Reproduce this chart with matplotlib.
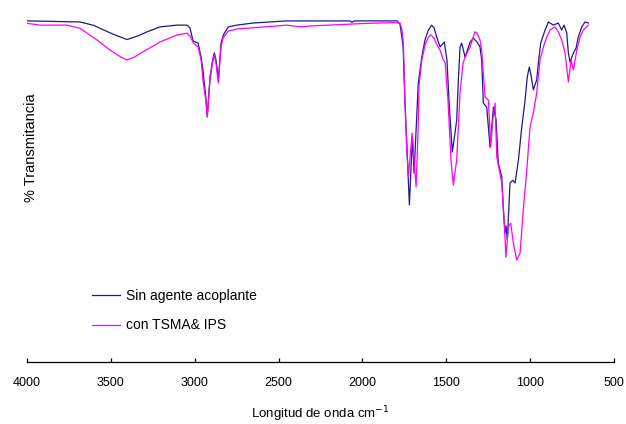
import numpy as np
import matplotlib.pyplot as plt

plt.rcParams['font.family'] = ['Liberation Sans', 'DejaVu Sans']

# Sin agente acoplante (wavenumber cm-1, % transmittance)
wn_sin = [4000, 3684, 3600, 3547, 3480, 3404, 3340, 3284, 3207, 3106, 3046, 3028, 3010, 2980, 2962,
          2951, 2934, 2925, 2909, 2893, 2883, 2873, 2859, 2849, 2843, 2829, 2800,
          2748, 2652, 2450, 2074, 2062, 2050, 1794, 1776, 1758, 1746, 1734, 1720,
          1710, 1702, 1692, 1667, 1646, 1627, 1607, 1587, 1573, 1557, 1537, 1512,
          1496, 1484, 1464, 1454, 1438, 1428, 1418, 1408, 1388, 1358, 1339, 1317,
          1299, 1289, 1279, 1259, 1239, 1219, 1203, 1190, 1169, 1160, 1150, 1144,
          1136, 1120, 1104, 1090, 1070, 1050, 1030, 1017, 1005, 995, 981, 961,
          951, 937, 911, 891, 862, 832, 812, 798, 782, 772, 762, 742, 726, 713,
          692, 673, 653]
t_sin = [96.9, 96.6, 95.6, 94.4, 93.0, 91.6, 92.6, 93.8, 95.2, 95.7, 95.7, 94.9, 91.2, 90.6, 86.6,
         82.9, 75.3, 69.6, 80.9, 85.8, 87.8, 85.8, 80.1, 86.6, 90.6, 92.9, 95.2,
         95.7, 96.3, 96.9, 96.9, 96.5, 96.9, 96.9, 96.0, 90.0, 73.5, 60.2, 44.6,
         55.4, 63.9, 53.6, 79.2, 86.6, 91.5, 94.3, 95.7, 94.9, 92.3, 89.5, 90.9,
         85.8, 74.4, 59.6, 63.0, 68.7, 80.1, 89.5, 90.6, 86.6, 90.9, 92.0, 90.9,
         89.5, 85.8, 73.5, 72.4, 61.0, 72.4, 68.7, 56.5, 52.5, 43.1, 36.6, 38.6,
         34.6, 50.8, 51.6, 50.8, 57.3, 66.7, 74.4, 81.0, 83.8, 81.5, 77.3, 80.1,
         84.9, 90.6, 94.3, 96.6, 95.7, 96.3, 94.3, 95.7, 93.5, 87.8, 85.2, 87.8,
         89.2, 92.3, 95.2, 96.6, 96.3]

# con TSMA & IPS
wn_con = [4000, 3922, 3761, 3684, 3583, 3505, 3440, 3404, 3360, 3308, 3207, 3106, 3046, 3028,
          3008, 2979, 2962, 2951, 2934, 2925, 2909, 2893, 2883, 2873, 2859, 2849,
          2843, 2831, 2800, 2748, 2611, 2450, 2372, 2295, 1973, 1818, 1776, 1764,
          1756, 1746, 1736, 1726, 1704, 1696, 1680, 1668, 1662, 1646, 1627, 1607,
          1593, 1573, 1555, 1537, 1518, 1507, 1490, 1472, 1458, 1438, 1418, 1400,
          1382, 1358, 1329, 1317, 1299, 1289, 1269, 1249, 1235, 1223, 1209, 1199,
          1169, 1156, 1144, 1130, 1116, 1100, 1080, 1060, 1041, 1020, 1001, 981,
          961, 941, 921, 901, 881, 852, 832, 812, 792, 772, 756, 742, 722, 702,
          683, 653]
t_con = [96.2, 95.7, 95.7, 94.8, 91.5, 88.6, 86.6, 85.8, 86.6, 88.1, 90.9, 92.9, 93.4, 92.6,
         90.6, 89.5, 85.8, 80.1, 74.4, 69.6, 80.1, 85.2, 87.2, 84.9, 79.2, 85.8,
         89.5, 92.0, 94.0, 94.6, 95.1, 95.7, 95.2, 95.5, 96.2, 96.4, 96.3, 94.3,
         90.6, 73.5, 61.0, 52.5, 65.0, 60.2, 49.7, 65.9, 78.7, 85.8, 90.0, 92.3,
         92.9, 92.0, 90.0, 88.6, 85.8, 85.2, 74.4, 57.3, 50.2, 57.3, 76.4, 84.9,
         87.2, 89.5, 93.8, 93.5, 91.5, 88.6, 75.3, 74.4, 61.0, 68.7, 73.5, 58.2,
         50.8, 41.2, 29.7, 38.3, 39.4, 33.7, 28.9, 30.9, 43.1, 54.5, 66.7, 70.7,
         76.4, 85.8, 89.5, 92.3, 94.3, 95.2, 93.8, 91.5, 87.8, 79.5, 85.8, 82.9,
         88.6, 92.3, 94.3, 95.7]

fig = plt.figure(figsize=(6.26, 4.24), dpi=100)
ax = fig.add_axes([27/626, 62.3/424, 587/626, 351.7/424])

ax.plot(wn_sin, t_sin, color='#1c1c84', lw=0.9, label='Sin agente acoplante')
ax.plot(wn_con, t_con, color='#ff00ff', lw=0.9, label='con TSMA& IPS')

ax.set_xlim(4000, 500)
ax.set_ylim(0, 100)
ax.set_xticks([4000, 3500, 3000, 2500, 2000, 1500, 1000, 500])
ax.set_yticks([])
for s in ['top', 'right', 'left']:
    ax.spines[s].set_visible(False)
ax.spines['bottom'].set_linewidth(0.9)
ax.tick_params(axis='x', direction='in', length=3, width=0.9, labelsize=9, pad=11)

ax.set_xlabel('Longitud de onda cm$^{-1}$', fontsize=9.5, labelpad=11)
fig.text(31/626, 1 - 148/424, '% Transmitancia', rotation=90, fontsize=10.5,
         ha='center', va='center')

ax.legend(loc='upper left', bbox_to_anchor=(0.09, 0.242), frameon=False,
          fontsize=10, handlelength=2.0, handletextpad=0.4, labelspacing=1.1)

fig.savefig('out.png', dpi=100)
